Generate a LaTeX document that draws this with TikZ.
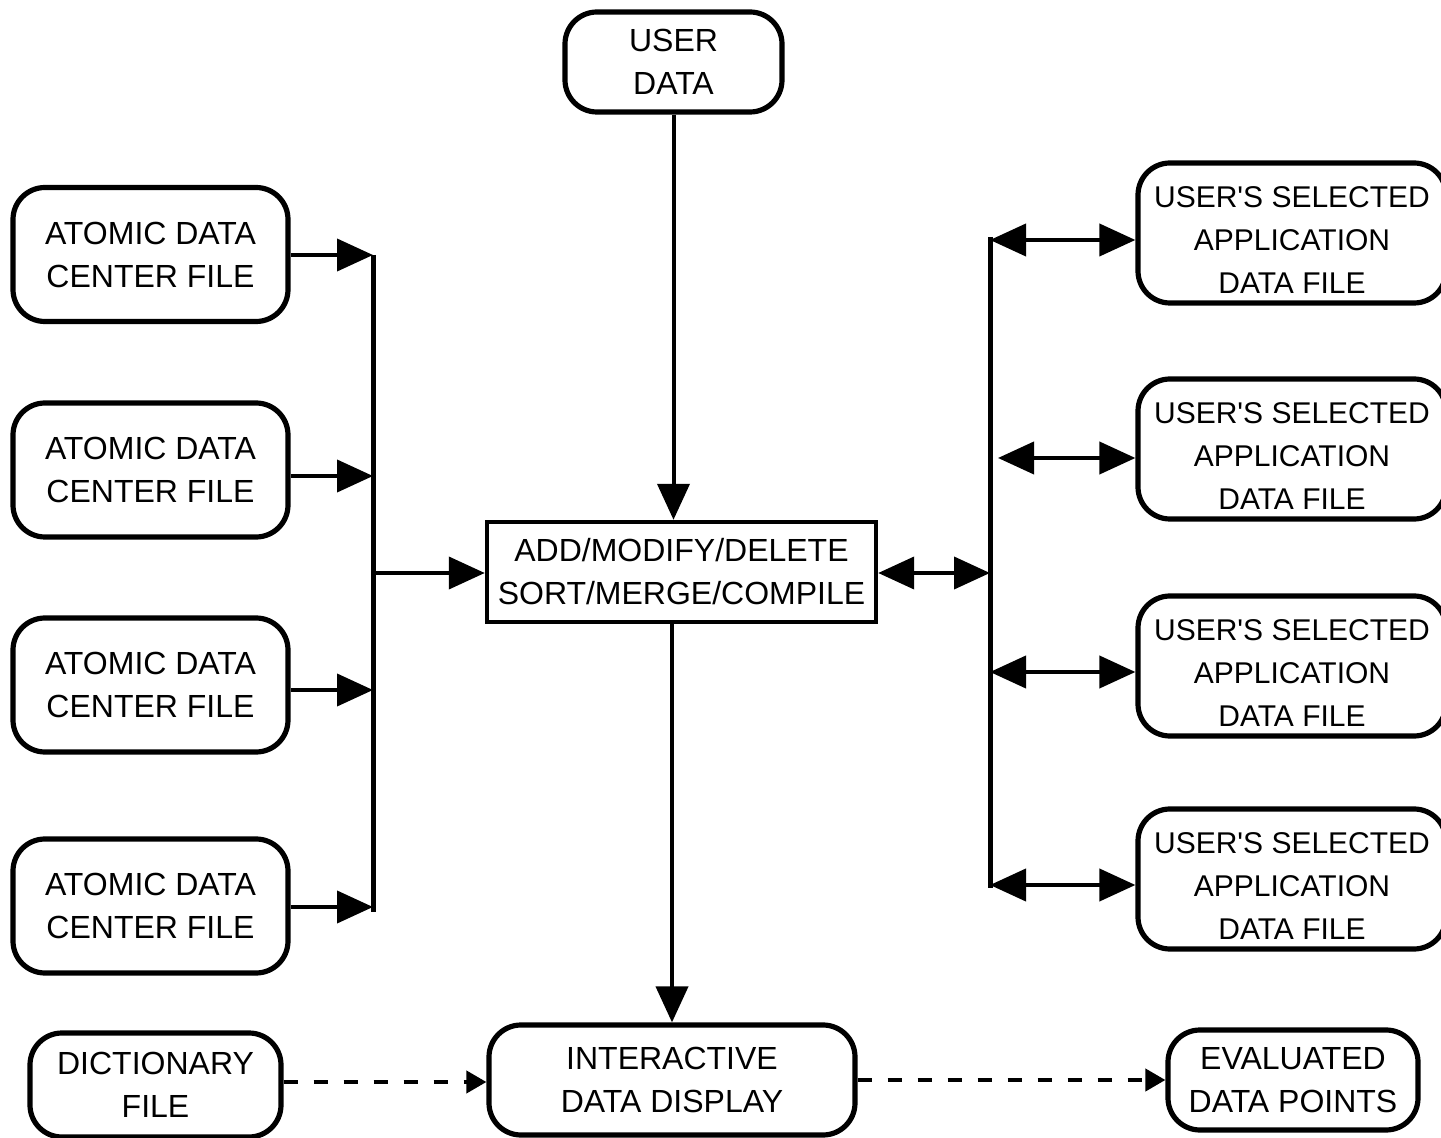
\documentclass[tikz,border=0pt]{standalone}
\usepackage{fontspec}
\setmainfont{Liberation Sans}
\usetikzlibrary{arrows.meta}
\begin{document}
\begin{tikzpicture}[x=0.5pt,y=-0.5pt,
  box/.style={draw,line width=2.6pt,rounded corners=16pt,align=center,inner sep=0pt,
    font=\fontsize{16}{21.5}\selectfont},
  rbox/.style={box,font=\fontsize{15}{21.5}\selectfont},
  sqbox/.style={draw,line width=2.2pt,align=center,inner sep=0pt,
    font=\fontsize{16}{21.5}\selectfont},
  conn/.style={line width=2pt},
  bus/.style={line width=2.5pt},
  arr/.style={conn,-{Triangle[length=18pt,width=16pt]}},
  darr/.style={conn,{Triangle[length=18pt,width=16pt]}-{Triangle[length=18pt,width=16pt]}},
  dasharr/.style={line width=2pt,dash pattern=on 7pt off 8pt,-{Triangle[length=10pt,width=11pt]}}]
\useasboundingbox (0,0) rectangle (1441,1138);
\clip (0,0) rectangle (1441,1138);

% nodes
\node[box,minimum width=108.5pt,minimum height=50pt] (u) at (673.5,62) {USER\\DATA};
\node[box,minimum width=137.5pt,minimum height=67pt] (a1) at (150.5,254.5) {ATOMIC DATA\\CENTER FILE};
\node[box,minimum width=137.5pt,minimum height=67pt] (a2) at (150.5,470) {ATOMIC DATA\\CENTER FILE};
\node[box,minimum width=137.5pt,minimum height=67pt] (a3) at (150.5,685) {ATOMIC DATA\\CENTER FILE};
\node[box,minimum width=137.5pt,minimum height=67pt] (a4) at (150.5,906) {ATOMIC DATA\\CENTER FILE};
\node[sqbox,minimum width=194.5pt,minimum height=50pt] (c) at (681.5,572) {ADD/MODIFY/DELETE\\SORT/MERGE/COMPILE};
\node[rbox,minimum width=154pt,minimum height=70pt] (r1) at (1292,233) {\\[-4pt]USER\textquotesingle S SELECTED\\APPLICATION\\DATA FILE};
\node[rbox,minimum width=154pt,minimum height=70pt] (r2) at (1292,449) {\\[-4pt]USER\textquotesingle S SELECTED\\APPLICATION\\DATA FILE};
\node[rbox,minimum width=154pt,minimum height=70pt] (r3) at (1292,666) {\\[-4pt]USER\textquotesingle S SELECTED\\APPLICATION\\DATA FILE};
\node[rbox,minimum width=154pt,minimum height=70pt] (r4) at (1292,879) {\\[-4pt]USER\textquotesingle S SELECTED\\APPLICATION\\DATA FILE};
\node[box,minimum width=125.5pt,minimum height=52pt] (d) at (155.5,1085) {DICTIONARY\\FILE};
\node[box,minimum width=183pt,minimum height=55pt] (i) at (672,1080) {INTERACTIVE\\DATA DISPLAY};
\node[box,minimum width=125pt,minimum height=50pt] (e) at (1293,1080) {EVALUATED\\DATA POINTS};

% bus coordinates
\coordinate (lb1) at (373,255);
\coordinate (lb2) at (373,476);
\coordinate (lbm) at (373,573);
\coordinate (lb3) at (373,690);
\coordinate (lb4) at (373,907);
\coordinate (rb1) at (990,240);
\coordinate (rb2) at (998,458);
\coordinate (rbm) at (990,573);
\coordinate (rb3) at (990,672);
\coordinate (rb4) at (990,885);

% buses
\draw[bus] (373,255) -- (373,912);
\draw[bus] (990,237) -- (990,888);

% left connectors
\draw[arr] (a1.east |- lb1) -- (lb1);
\draw[arr] (a2.east |- lb2) -- (lb2);
\draw[arr] (a3.east |- lb3) -- (lb3);
\draw[arr] (a4.east |- lb4) -- (lb4);
\draw[arr] (lbm) -- (lbm -| c.west);

% vertical connectors
\draw[arr] (u.south) -- (u.south |- c.north);
\draw[arr] (c.south -| i.north) -- (i.north);

% right connectors
\draw[darr] (c.east |- rbm) -- (rbm);
\draw[darr] (rb1) -- (rb1 -| r1.west);
\draw[darr] (rb2) -- (rb2 -| r2.west);
\draw[darr] (rb3) -- (rb3 -| r3.west);
\draw[darr] (rb4) -- (rb4 -| r4.west);

% dashed connectors
\draw[dasharr] (d.east |- 0,1082) -- (i.west |- 0,1082);
\draw[dasharr] (i.east) -- (i.east -| e.west);
\end{tikzpicture}
\end{document}
